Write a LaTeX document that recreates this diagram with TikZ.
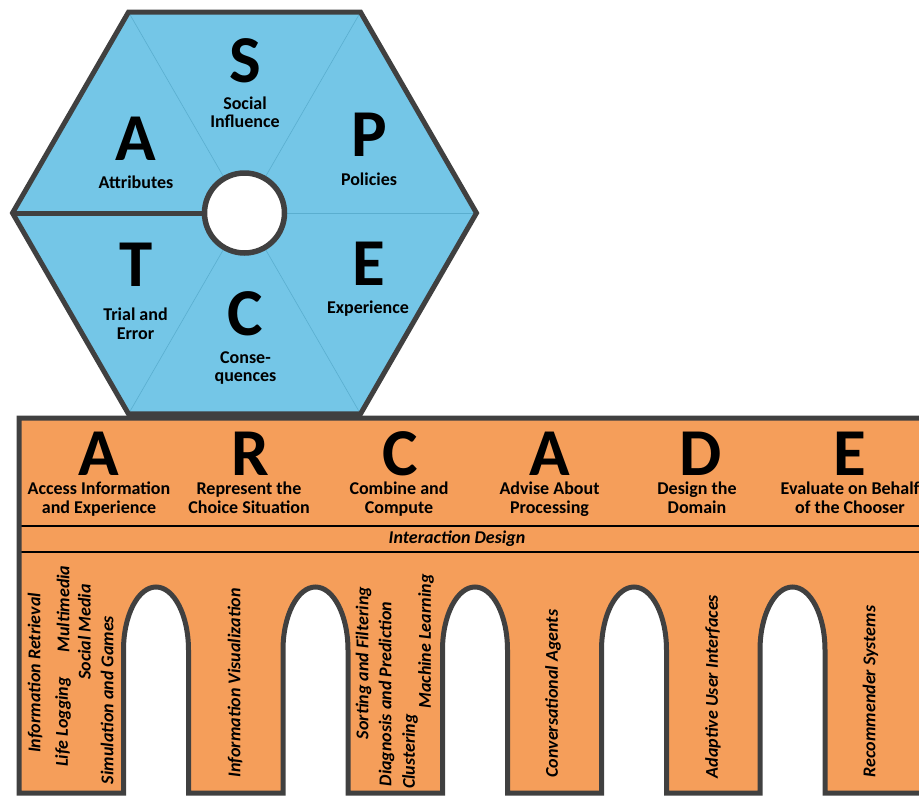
\documentclass[tikz,border=0pt]{standalone}
\usepackage{fontspec}
\setmainfont{Carlito}
\definecolor{hexblue}{HTML}{74C6E7}
\definecolor{arcorange}{HTML}{F59E5A}
\definecolor{edgegray}{HTML}{404040}
\definecolor{spokeblue}{HTML}{5AAECF}
\tikzset{
  bigletter/.style={font=\fontsize{67}{67}\selectfont\bfseries, inner sep=0pt, anchor=base, text depth=0pt},
  subtitle/.style={font=\fontsize{18}{18.5}\selectfont\bfseries, inner sep=0pt, anchor=base, align=center},
  vtext/.style={font=\fontsize{18}{18}\selectfont\bfseries\itshape, inner sep=0pt, rotate=90},
  border/.style={draw=edgegray, line width=5pt, line join=miter},
  thinspoke/.style={draw=spokeblue, line width=0.6pt},
  divider/.style={draw=black, line width=2.6pt}
}
\begin{document}
\begin{tikzpicture}[x=1pt,y=-1pt]
\useasboundingbox (0,0) rectangle (919,796);
\begin{scope}
\clip (0,0) rectangle (919,796);
% ---------- arcade ----------
\coordinate (arcTL) at (19,418);
\coordinate (arcTR) at (945,418);
\path[fill=arcorange] (19,793) -- (arcTL) -- (arcTR) -- (945,793) -- (825,793) -- (825,650)
  .. controls (825,615.2) and (810.45,587) .. (792.5,587)
  .. controls (774.55,587) and (760,615.2) .. (760,650) -- (760,793) -- (666.5,793) -- (666.5,650)
  .. controls (666.5,615.2) and (651.95,587) .. (634,587)
  .. controls (616.05,587) and (601.5,615.2) .. (601.5,650) -- (601.5,793) -- (507.5,793) -- (507.5,650)
  .. controls (507.5,615.2) and (492.95,587) .. (475,587)
  .. controls (457.05,587) and (442.5,615.2) .. (442.5,650) -- (442.5,793) -- (348,793) -- (348,650)
  .. controls (348,615.2) and (333.45,587) .. (315.5,587)
  .. controls (297.55,587) and (283,615.2) .. (283,650) -- (283,793) -- (188.5,793) -- (188.5,650)
  .. controls (188.5,615.2) and (173.95,587) .. (156,587)
  .. controls (138.05,587) and (123.5,615.2) .. (123.5,650) -- (123.5,793) -- cycle;
\coordinate (divAL) at (19,526);
\coordinate (divAR) at (945,526);
\coordinate (divBL) at (19,552);
\coordinate (divBR) at (945,552);
\draw[divider] (divAL) -- (divAR);
\draw[divider] (divBL) -- (divBR);
\draw[border] (19,793) -- (arcTL) -- (arcTR) -- (945,793) -- (825,793) -- (825,650)
  .. controls (825,615.2) and (810.45,587) .. (792.5,587)
  .. controls (774.55,587) and (760,615.2) .. (760,650) -- (760,793) -- (666.5,793) -- (666.5,650)
  .. controls (666.5,615.2) and (651.95,587) .. (634,587)
  .. controls (616.05,587) and (601.5,615.2) .. (601.5,650) -- (601.5,793) -- (507.5,793) -- (507.5,650)
  .. controls (507.5,615.2) and (492.95,587) .. (475,587)
  .. controls (457.05,587) and (442.5,615.2) .. (442.5,650) -- (442.5,793) -- (348,793) -- (348,650)
  .. controls (348,615.2) and (333.45,587) .. (315.5,587)
  .. controls (297.55,587) and (283,615.2) .. (283,650) -- (283,793) -- (188.5,793) -- (188.5,650)
  .. controls (188.5,615.2) and (173.95,587) .. (156,587)
  .. controls (138.05,587) and (123.5,615.2) .. (123.5,650) -- (123.5,793) -- cycle;
\end{scope}
% ARCADE letters
\node[bigletter] (LA1) at (99,475) {A};
\node[bigletter] (LR) at (250,475) {R};
\node[bigletter] (LC) at (400,475) {C};
\node[bigletter] (LA2) at (549.5,475) {A};
\node[bigletter] (LD) at (701,475) {D};
\node[bigletter] (LE) at (850,475) {E};
\node[subtitle] (SA1) at (99,513) {Access Information\\and Experience};
\node[subtitle] (SR) at (249,513) {Represent the\\Choice Situation};
\node[subtitle] (SC) at (399,513) {Combine and\\Compute};
\node[subtitle] (SA2) at (549.5,513) {Advise About\\Processing};
\node[subtitle] (SD) at (697,513) {Design the\\Domain};
\node[subtitle] (SE) at (850,513) {Evaluate on Behalf\\of the Chooser};
\node[font=\fontsize{18}{18}\selectfont\bfseries\itshape, inner sep=0pt] (IDs) at (457,539) {Interaction Design};
% vertical texts
\node[vtext] (t1) at (35,673) {Information Retrieval};
\node[vtext] (t2) at (63,722) {Life Logging};
\node[vtext] (t3) at (63,609) {Multimedia};
\node[vtext] (t4) at (84.5,632) {Social Media};
\node[vtext] (t5) at (107,700) {Simulation and Games};
\node[vtext] (t6) at (235,683) {Information Visualization};
\node[vtext] (t7) at (363.5,663) {Sorting and Filtering};
\node[vtext] (t8) at (386.5,694) {Diagnosis and Prediction};
\node[vtext] (t9) at (410,751.5) {Clustering};
\node[vtext] (t10) at (426,641.5) {Machine Learning};
\node[vtext] (t11) at (553,693.5) {Conversational Agents};
\node[vtext] (t12) at (713,686.5) {Adaptive User Interfaces};
\node[vtext] (t13) at (870.5,691.5) {Recommender Systems};
% ---------- hexagon ----------
\coordinate (hc) at (244.5,213);
\coordinate (hR) at (476.5,213);
\coordinate (hTR) at (360.5,12.1);
\coordinate (hTL) at (128.5,12.1);
\coordinate (hL) at (12.5,213);
\coordinate (hBL) at (128.5,413.9);
\coordinate (hBR) at (360.5,413.9);
\fill[hexblue] (hR) -- (hTR) -- (hTL) -- (hL) -- (hBL) -- (hBR) -- cycle;
\draw[thinspoke] (hc) -- (hR);
\draw[thinspoke] (hc) -- (hTR);
\draw[thinspoke] (hc) -- (hTL);
\draw[thinspoke] (hc) -- (hBL);
\draw[thinspoke] (hc) -- (hBR);
\draw[border] (hL) -- (hc);
\draw[border] (hR) -- (hTR) -- (hTL) -- (hL) -- (hBL) -- (hBR) -- cycle;
\node[circle, draw=edgegray, line width=5.5pt, fill=white, minimum size=80pt, inner sep=0pt] (hub) at (hc) {};
% hexagon letters
\node[bigletter] (HS) at (245.5,82) {S};
\node[subtitle] (HSs) at (245,127.5) {Social\\Influence};
\node[bigletter] (HA) at (136,160) {A};
\node[subtitle] (HAs) at (136,188) {Attributes};
\node[bigletter] (HP) at (369,156) {P};
\node[subtitle] (HPs) at (369,185) {Policies};
\node[bigletter] (HT) at (136,286) {T};
\node[subtitle] (HTs) at (135.5,339) {Trial and\\Error};
\node[bigletter] (HE) at (369,285) {E};
\node[subtitle] (HEs) at (368,313) {Experience};
\node[bigletter] (HC) at (245.5,335) {C};
\node[subtitle] (HCs) at (245.5,381.5) {Conse-\\quences};
\end{tikzpicture}
\end{document}
